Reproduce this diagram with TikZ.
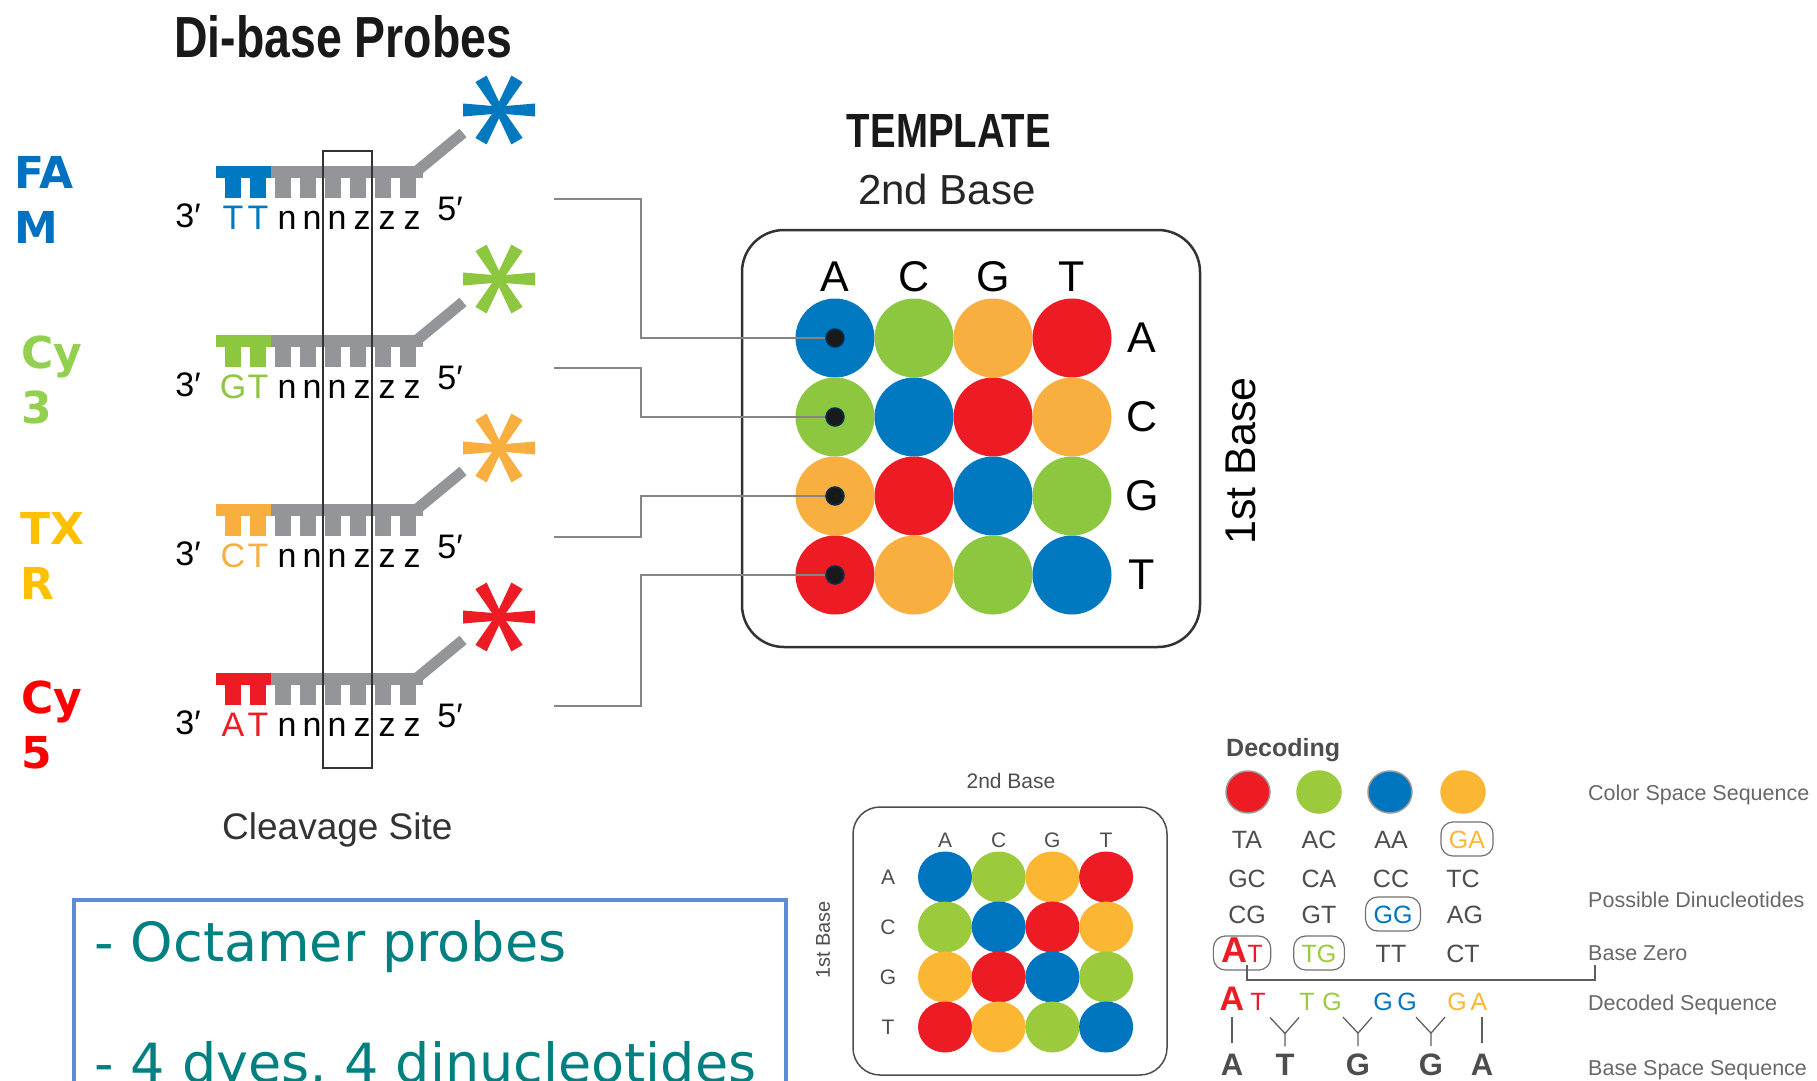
\documentclass[tikz,border=0pt]{standalone}
\usepackage{fontspec}
\usetikzlibrary{shapes.geometric}
\setmainfont{Liberation Sans}
\newfontfamily\condfont[FakeStretch=0.8]{Liberation Sans}
\newfontfamily\dejavu{DejaVu Sans}
\newcommand{\fsz}[1]{\fontsize{#1}{#1}\selectfont}
\definecolor{pblue}{HTML}{0079C1}
\definecolor{pgreen}{HTML}{8DC63F}
\definecolor{porange}{HTML}{F9AE40}
\definecolor{pred}{HTML}{ED1C24}
\definecolor{sblue}{HTML}{0075BF}
\definecolor{sgreen}{HTML}{9BCB3C}
\definecolor{sorange}{HTML}{FBB634}
\definecolor{sred}{HTML}{ED1C24}
\definecolor{pgray}{HTML}{939598}
\definecolor{famblue}{HTML}{0070C0}
\definecolor{cythree}{HTML}{92D050}
\definecolor{txrgold}{HTML}{FFC000}
\definecolor{cyfive}{HTML}{FF0000}
\definecolor{txtgray}{HTML}{4D4D4D}
\definecolor{wiregray}{HTML}{858585}
\definecolor{octteal}{HTML}{008080}
\definecolor{boxblue}{HTML}{5B8DD6}
\begin{document}
\begin{tikzpicture}[x=1pt, y=-1pt,
    txt/.style={inner sep=0pt, anchor=base},
    lbl/.style={txt, font=\fsz{34}},
    dye/.style={inner sep=0pt, anchor=base west, font=\dejavu\bfseries\fsz{44}},
    wire/.style={draw=wiregray, line width=2.5pt},
    cell/.style={circle, inner sep=0pt, minimum size=79pt},
    scell/.style={ellipse, inner sep=0pt, minimum width=54pt, minimum height=51pt},
    dcirc/.style={ellipse, inner sep=0pt, minimum width=44pt, minimum height=42pt, line width=1.5pt},
    pin/.style={circle, inner sep=0pt, minimum size=18pt, fill=black!90, draw=pblue!40!black, line width=1.5pt},
    dn/.style={txt, font=\fsz{25}, text=txtgray},
    boxd/.style={draw=txtgray!80, line width=1.2pt, rounded corners=12pt, inner xsep=8pt, inner ysep=8pt, text height=18pt, text depth=0pt},
    rlab/.style={inner sep=0pt, anchor=base west, font=\fsz{21.5}, text=txtgray!85},
    link/.style={draw=txtgray!90, line width=1.3pt}]
  \useasboundingbox (0,0) rectangle (1817,1081);

  % probes
  \node[txt, anchor=base west, font=\condfont\bfseries\fsz{58}, text=black!90] (title) at (174,58) {Di-base Probes};
  \foreach \k/\col/\ba/\bb in {0/pblue/T/T, 1/pgreen/G/T, 2/porange/C/T, 3/pred/A/T} {
    \begin{scope}[shift={(0,169*\k)}]
      \fill[\col] (216,166) rectangle (271,178);
      \foreach \x in {233,258} \fill[\col] (\x-8,177) rectangle (\x+8,198);
      \fill[pgray] (271,166) rectangle (423,178);
      \foreach \x in {283,308,...,408} \fill[pgray] (\x-8,177) rectangle (\x+8,198);
      \draw[pgray, line width=11pt] (417,171) -- (463,133);
      \foreach \a in {0,60,...,300}
        \fill[\col, shift={(499,110)}, rotate=\a] (0,-3.5) -- (36,-6.5) -- (36,6.5) -- (0,3.5) -- cycle;
      \node[lbl] (three\k) at (188,227) {3′};
      \node[lbl] (five\k) at (450,220) {5′};
      \node[lbl, text=\col] (ba\k) at (233,229) {\ba};
      \node[lbl, text=\col] (bb\k) at (258,229) {\bb};
      \foreach \n/\x in {n/287,n/312,n/337,z/362,z/387,z/412}
        \node[lbl] (let\k\x) at (\x,229) {\n};
      \coordinate (p\k) at (554,199);
    \end{scope}
  }
  \foreach \a/\b/\col/\x/\y in {FA/M/famblue/14/188, Cy/3/cythree/21/368, TX/R/txrgold/20/544, Cy/5/cyfive/21/713} {
    \node[dye, text=\col] (dye\y) at (\x,\y) {\a};
    \node[dye, text=\col] (dyeb\y) at (\x,\y+55) {\b};
  }
  \node[draw=black!80, line width=1.5pt, inner sep=0pt, minimum width=49pt, minimum height=617pt] (cut) at (347.5,459.5) {};
  \node[txt, anchor=base west, font=\fsz{37}, text=black!80] (cleave) at (222,839) {Cleavage Site};

  % template
  \node[txt, font=\condfont\bfseries\fsz{48}, text=black!90] (tmpl) at (949,147) {TEMPLATE};
  \node[txt, font=\fsz{42}, text=black!85] (second) at (947,204) {2nd Base};
  \draw[line width=2.5pt, black!80, rounded corners=42pt] (742,230) rectangle (1200,647);
  \foreach \r/\cols in {0/{pblue,pgreen,porange,pred}, 1/{pgreen,pblue,pred,porange},
                        2/{porange,pred,pblue,pgreen}, 3/{pred,porange,pgreen,pblue}}
    \foreach \cl [count=\c from 0] in \cols
      \node[cell, fill=\cl] (t\r\c) at (835+79*\c,338+79*\r) {};
  \foreach \b [count=\c from 0] in {A,C,G,T} {
    \node[txt, font=\fsz{43}] (col\b) at (835+79*\c,291) {\b};
    \node[inner sep=0pt, font=\fsz{43}] (row\b) at (1142,338+79*\c) {\b};
  }
  \node[inner sep=0pt, font=\fsz{43}, rotate=90] (first) at (1241,461) {1st Base};
  \foreach \k in {0,...,3} \draw[wire] (p\k) -- ++(87,0) |- (t\k0.center);
  \foreach \k in {0,...,3} \node[pin] (dot\k) at (t\k0) {};

  \draw[boxblue, line width=3.5pt] (74,900) rectangle (786,1120);
  \node[inner sep=0pt, anchor=base west, font=\dejavu\fsz{54}, text=octteal] (oct) at (94,961) {- Octamer probes};
  \node[inner sep=0pt, anchor=base west, font=\dejavu\fsz{54}, text=octteal] (dyes) at (94,1082) {- 4 dyes, 4 dinucleotides};

  % small template
  \node[txt, font=\fsz{21}, text=txtgray] (ssecond) at (1011,788) {2nd Base};
  \draw[line width=1.5pt, txtgray, rounded corners=27pt] (853,807) rectangle (1167,1075);
  \foreach \r/\cols in {0/{sblue,sgreen,sorange,sred}, 1/{sgreen,sblue,sred,sorange},
                        2/{sorange,sred,sblue,sgreen}, 3/{sred,sorange,sgreen,sblue}}
    \foreach \cl [count=\c from 0] in \cols
      \node[scell, fill=\cl] (s\r\c) at (945+53.7*\c,877+50*\r) {};
  \foreach \b [count=\c from 0] in {A,C,G,T} {
    \node[txt, font=\fsz{21}, text=txtgray] (scol\b) at (945+53.7*\c,847) {\b};
    \node[inner sep=0pt, font=\fsz{21}, text=txtgray] (srow\b) at (888,877+50*\c) {\b};
  }
  \node[inner sep=0pt, font=\fsz{20}, text=txtgray, rotate=90] (sfirst) at (823,940) {1st Base};

  % decoding
  \node[txt, anchor=base west, font=\bfseries\fsz{25}, text=txtgray] (dec) at (1226,756) {Decoding};
  \foreach \cl/\ol/\x [count=\i] in {sred/black!40/1248, sgreen/sgreen/1319, sblue/black!40/1390, sorange/sorange/1463}
    \node[dcirc, fill=\cl, draw=\ol] (cs\i) at (\x,792) {};
  \foreach \d/\x/\y in {TA/1247/848, AC/1319/848, AA/1391/848, GC/1247/887, CA/1319/887, CC/1391/887,
                        TC/1463/887, CG/1247/923, GT/1319/923, AG/1465/923, TT/1391/962, CT/1463/962}
    \node[dn] (d\d) at (\x,\y) {\d};
  \node[dn, boxd, text=sorange] (dGA) at (1467,848) {GA};
  \node[dn, boxd, text=sblue] (dGG) at (1393,923) {GG};
  \node[dn, boxd, text=sgreen] (dTG) at (1319,962) {TG};
  \node[dn, boxd, text=sred] (dAT) at (1242,962) {{\bfseries\fsz{36}A}T};

  \node[dn, text=sred, font=\bfseries\fsz{34}] (e1) at (1232,1010) {A};
  \foreach \t/\x/\cl [count=\n from 2] in {T/1258/sred, T/1307/sgreen, G/1332/sgreen, G/1383/sblue,
                                           G/1407/sblue, G/1457/sorange, A/1479/sorange}
    \node[dn, text=\cl] (e\n) at (\x,1010) {\t};
  \foreach \t/\x [count=\n] in {A/1232, T/1285, G/1358, G/1431, A/1482}
    \node[dn, font=\bfseries\fsz{31}] (b\n) at (\x,1075) {\t};
  \draw[link] ([yshift=10pt]b1.north) -- ++(0,-26);
  \draw[link] ([yshift=10pt]b5.north) -- ++(0,-26);
  \foreach \n in {2,3,4}
    \draw[link] ([yshift=7pt]b\n.north) -- ++(0,-13) coordinate (j\n) -- ++(-15,-16) (j\n) -- ++(14,-16);

  \foreach \t/\y [count=\n] in {Color Space Sequence/800, Possible Dinucleotides/907, Base Zero/960,
                                Decoded Sequence/1010, Base Space Sequence/1075}
    \node[rlab] (r\n) at (1588,\y) {\t};
  \draw[link] ([xshift=5pt, yshift=-3pt]dAT.base) -- ++(0,15) -| ([xshift=7pt, yshift=-5pt]r3.base west);
\end{tikzpicture}
\end{document}
